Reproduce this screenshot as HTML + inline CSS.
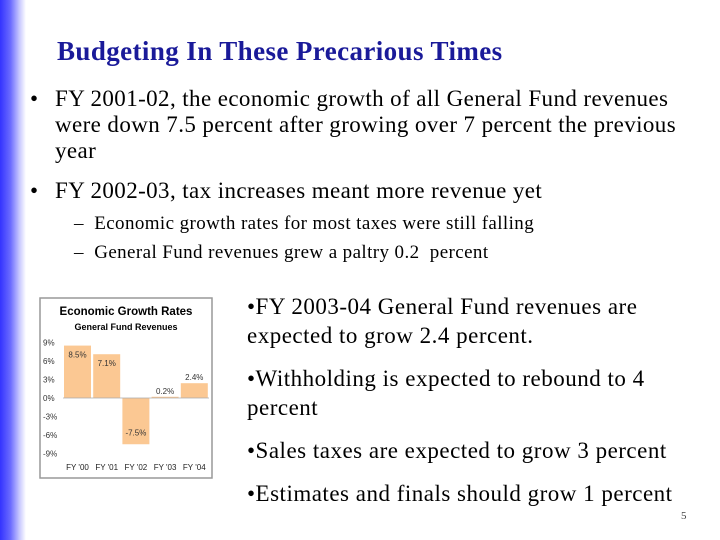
<!DOCTYPE html>
<html><head><meta charset="utf-8"><style>
body{margin:0;width:720px;height:540px;overflow:hidden;background:#fff;position:relative;font-family:"Liberation Serif",serif;}
.bar{position:absolute;left:0;top:0;width:26px;height:540px;background:linear-gradient(to right,#3333ff 0%,#6a6aff 40%,#c8c8ff 75%,#fff 100%);}
.t{position:absolute;white-space:nowrap;color:#000;}
</style></head><body>
<div class="bar"></div>
<div class="t" style="left:57px;top:36px;font-size:27px;letter-spacing:0.4px;font-weight:bold;color:#1a1a99">Budgeting In These Precarious Times</div>
<div class="t" style="left:30px;top:86px;font-size:23px;letter-spacing:0.4px;line-height:26px"><span style="position:absolute;left:0">•</span><div style="padding-left:25px">FY 2001-02, the economic growth of all General Fund revenues<br>were down 7.5 percent after growing over 7 percent the previous<br>year</div></div>
<div class="t" style="left:30px;top:178px;font-size:23px;letter-spacing:0.4px;line-height:26px"><span style="position:absolute;left:0">•</span><div style="padding-left:25px">FY 2002-03, tax increases meant more revenue yet</div></div>
<div class="t" style="left:74px;top:209px;font-size:19px;letter-spacing:0.4px;line-height:29px">–&nbsp;&nbsp;Economic growth rates for most taxes were still falling<br>–&nbsp;&nbsp;General Fund revenues grew a paltry 0.2&nbsp; percent</div>
<div class="t" style="left:247px;top:292px;font-size:23px;letter-spacing:0.5px;line-height:29px">•FY 2003-04 General Fund revenues are<br>expected to grow 2.4 percent.<div style="height:14px"></div>•Withholding is expected to rebound to 4<br>percent<div style="height:14px"></div>•Sales taxes are expected to grow 3 percent<div style="height:14px"></div>•Estimates and finals should grow 1 percent</div>
<div class="t" style="left:681px;top:510px;font-size:11px;color:#444">5</div>
<svg id="chart" style="position:absolute;left:0;top:0" width="720" height="540" font-family="Liberation Sans, sans-serif"></svg>
<script>
const categories=["FY '00","FY '01","FY '02","FY '03","FY '04"];
const values=[8.5,7.1,-7.5,0.2,2.4];
const labels=["8.5%","7.1%","-7.5%","0.2%","2.4%"];
const ticks=[9,6,3,0,-3,-6,-9];
const svg=document.getElementById('chart');
const NS='http://www.w3.org/2000/svg';
function y(v){return 398-v*(55.5/9);}
function x(i){return 63+i*29.2;}
function mk(tag,a,txt){const e=document.createElementNS(NS,tag);for(const k in a)e.setAttribute(k,a[k]);if(txt!==undefined)e.textContent=txt;svg.appendChild(e);return e;}
let r=mk('rect',{x:40,y:298,width:172,height:180,fill:'#fff',stroke:'#999','stroke-width':1.5});

let t=mk('text',{x:126,y:315,'text-anchor':'middle','font-size':11.5,'font-weight':'bold'},'Economic Growth Rates');

t=mk('text',{x:126,y:330,'text-anchor':'middle','font-size':9,'font-weight':'bold'},'General Fund Revenues');

ticks.forEach(v=>{const e=mk('text',{x:43,y:y(v)+3,'font-size':8,fill:'#333'},v+'%');
});
values.forEach((v,i)=>{const top=Math.min(y(v),y(0)),h=Math.abs(y(v)-y(0));
const b=mk('rect',{x:x(i)+1,y:top,width:27,height:Math.max(h,0.5),fill:'#fbc893'});

const ly=v>=0?(v>3?y(v)+12:y(v)-3):y(v)-9;
const l=mk('text',{x:x(i)+14.5,y:ly,'text-anchor':'middle','font-size':8,fill:'#333'},labels[i]);

const c=mk('text',{x:x(i)+14.5,y:470,'text-anchor':'middle','font-size':8,fill:'#222'},categories[i]);
});
const z=mk('line',{x1:63,x2:209,y1:y(0),y2:y(0),stroke:'#aaa','stroke-width':0.8});

</script>
</body></html>
